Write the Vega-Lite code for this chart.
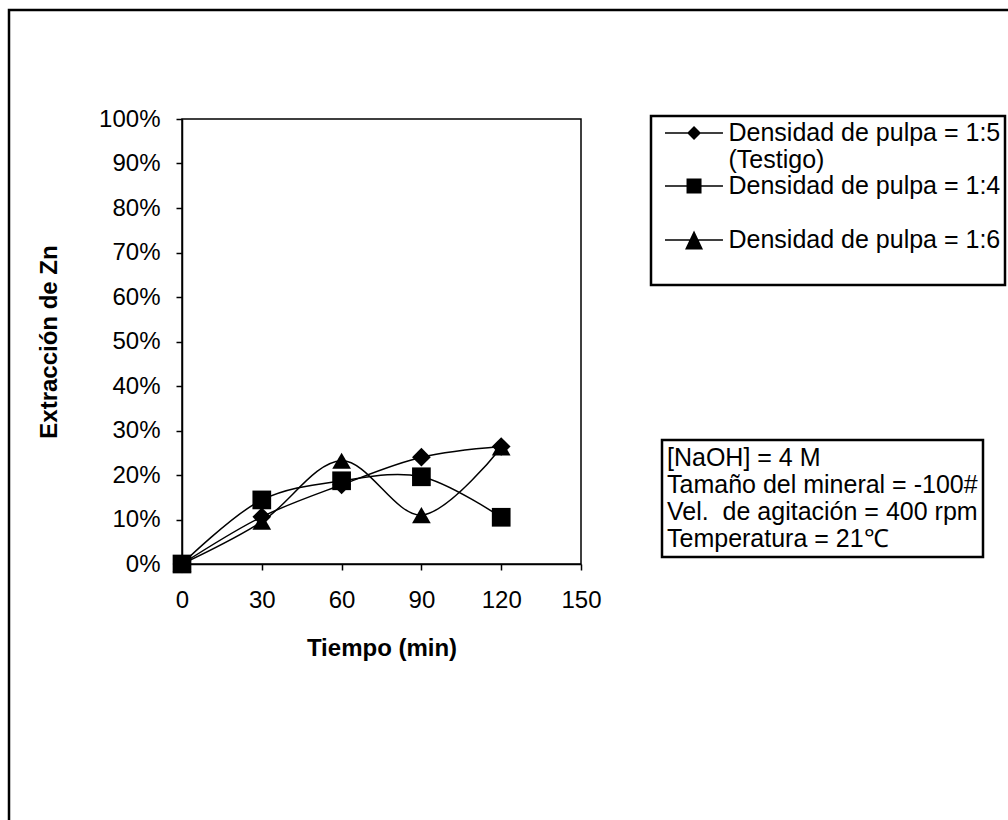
{
  "$schema": "https://vega.github.io/schema/vega-lite/v6.json",
  "width": 399,
  "height": 445,
  "autosize": {"type": "none"},
  "padding": {"left": 182, "top": 119, "right": 427, "bottom": 256},
  "background": "white",
  "config": {
    "font": "Liberation Sans",
    "view": {"stroke": "black", "strokeWidth": 1.5},
    "axis": {
      "grid": false,
      "domainColor": "black",
      "domainWidth": 1.5,
      "tickColor": "black",
      "tickWidth": 1.5,
      "tickSize": 6,
      "labelFont": "Liberation Sans",
      "labelFontSize": 24,
      "labelColor": "black",
      "labelOverlap": false,
      "labelFlush": false,
      "labelBound": false,
      "titleFont": "Liberation Sans",
      "titleFontSize": 24,
      "titleFontWeight": "bold",
      "titleColor": "black"
    },
    "legend": {
      "labelFont": "Liberation Sans",
      "labelFontSize": 25,
      "labelColor": "black",
      "labelLimit": 0,
      "strokeWidth": 2.5
    }
  },
  "datasets": {
    "extraccion": [
      {"serie": "Densidad de pulpa = 1:5 (Testigo)", "tiempo": 0, "extraccion": 0.0},
      {"serie": "Densidad de pulpa = 1:5 (Testigo)", "tiempo": 30, "extraccion": 0.106},
      {"serie": "Densidad de pulpa = 1:5 (Testigo)", "tiempo": 60, "extraccion": 0.178},
      {"serie": "Densidad de pulpa = 1:5 (Testigo)", "tiempo": 90, "extraccion": 0.24},
      {"serie": "Densidad de pulpa = 1:5 (Testigo)", "tiempo": 120, "extraccion": 0.264},
      {"serie": "Densidad de pulpa = 1:4", "tiempo": 0, "extraccion": 0.0},
      {"serie": "Densidad de pulpa = 1:4", "tiempo": 30, "extraccion": 0.144},
      {"serie": "Densidad de pulpa = 1:4", "tiempo": 60, "extraccion": 0.187},
      {"serie": "Densidad de pulpa = 1:4", "tiempo": 90, "extraccion": 0.196},
      {"serie": "Densidad de pulpa = 1:4", "tiempo": 120, "extraccion": 0.105},
      {"serie": "Densidad de pulpa = 1:6", "tiempo": 0, "extraccion": 0.0},
      {"serie": "Densidad de pulpa = 1:6", "tiempo": 30, "extraccion": 0.095},
      {"serie": "Densidad de pulpa = 1:6", "tiempo": 60, "extraccion": 0.232},
      {"serie": "Densidad de pulpa = 1:6", "tiempo": 90, "extraccion": 0.11},
      {"serie": "Densidad de pulpa = 1:6", "tiempo": 120, "extraccion": 0.262}
    ],
    "condiciones": [
      {"nota": "[NaOH] = 4 M"},
      {"nota": "Tamaño del mineral = -100#"},
      {"nota": "Vel.  de agitación = 400 rpm"},
      {"nota": "Temperatura = 21℃"}
    ],
    "marco": [
      {"marco": "marco"}
    ]
  },
  "resolve": {"scale": {"size": "independent"}},
  "layer": [
    {
      "data": {"name": "extraccion"},
      "encoding": {
        "x": {
          "field": "tiempo",
          "type": "quantitative",
          "scale": {"domain": [0, 150], "nice": false, "zero": false},
          "axis": {
            "title": "Tiempo (min)",
            "values": [0, 30, 60, 90, 120, 150],
            "labelPadding": 18,
            "titlePadding": 24
          }
        },
        "y": {
          "field": "extraccion",
          "type": "quantitative",
          "scale": {"domain": [0, 1], "nice": false},
          "axis": {
            "title": "Extracción de Zn",
            "values": [0, 0.1, 0.2, 0.3, 0.4, 0.5, 0.6, 0.7, 0.8, 0.9, 1],
            "format": ".0%",
            "labelPadding": 16,
            "titlePadding": 37
          }
        }
      },
      "resolve": {"scale": {"shape": "independent"}, "legend": {"shape": "independent"}},
      "layer": [
        {
          "mark": {"type": "line", "interpolate": "catmull-rom", "color": "black", "strokeWidth": 1.5, "clip": false},
          "encoding": {"detail": {"field": "serie", "type": "nominal"}}
        },
        {
          "mark": {"type": "point", "filled": true, "color": "black", "opacity": 1, "size": 350, "clip": false},
          "encoding": {
            "shape": {
              "field": "serie",
              "type": "nominal",
              "scale": {
                "domain": ["Densidad de pulpa = 1:5 (Testigo)", "Densidad de pulpa = 1:4", "Densidad de pulpa = 1:6"],
                "range": ["diamond", "square", "triangle-up"]
              },
              "legend": null
            }
          }
        },
        {
          "mark": {"type": "point", "filled": true, "color": "black", "opacity": 0, "size": 225},
          "encoding": {
            "shape": {
              "field": "serie",
              "type": "nominal",
              "scale": {
                "domain": ["Densidad de pulpa = 1:5 (Testigo)", "Densidad de pulpa = 1:4", "Densidad de pulpa = 1:6"],
                "range": [
                  "M-0.4,-0.1L7.33,-0.1L7.33,0.1L-0.4,0.1ZM2.54,0L3.47,-0.93L4.4,0L3.47,0.93Z",
                  "M-0.4,-0.1L7.33,-0.1L7.33,0.1L-0.4,0.1ZM2.47,-1L4.47,-1L4.47,1L2.47,1Z",
                  "M-0.4,-0.1L7.33,-0.1L7.33,0.1L-0.4,0.1ZM3.47,-1.27L4.67,1.27L2.27,1.27Z"
                ]
              },
              "legend": {
                "title": null,
                "orient": "none",
                "legendX": 469,
                "legendY": -3,
                "strokeColor": "black",
                "padding": 4.5,
                "symbolSize": 225,
                "symbolOpacity": 1,
                "symbolFillColor": "black",
                "labelOffset": 48,
                "rowPadding": 0,
                "labelExpr": "datum.value == 'Densidad de pulpa = 1:5 (Testigo)' ? ['Densidad de pulpa = 1:5\u00a0\u00a0', '(Testigo)'] : [datum.value + '\u00a0\u00a0', '']",
                "encode": {
                  "labels": {"lineHeight": {"value": 27}}
                }
              }
            }
          }
        }
      ]
    },
    {
      "data": {"name": "condiciones"},
      "mark": {"type": "point", "opacity": 0},
      "encoding": {
        "color": {
          "field": "nota",
          "type": "nominal",
          "sort": null,
          "scale": {"range": ["black"]},
          "legend": {
            "title": null,
            "orient": "none",
            "legendX": 480,
            "legendY": 321,
            "strokeColor": "black",
            "padding": 5,
            "symbolOpacity": 0,
            "symbolSize": 0,
            "labelOffset": -25,
            "rowPadding": 1,
            "labelExpr": "replace(datum.label, '  ', '\u00a0 ') + '\u00a0\u00a0\u00a0'"
          }
        }
      }
    },
    {
      "data": {"name": "marco"},
      "mark": {"type": "point", "opacity": 0},
      "encoding": {
        "size": {
          "field": "marco",
          "type": "ordinal",
          "legend": {
            "title": null,
            "orient": "none",
            "legendX": -173,
            "legendY": -109,
            "strokeColor": "black",
            "padding": 510,
            "symbolOpacity": 0,
            "labelExpr": "''"
          }
        }
      }
    }
  ]
}
